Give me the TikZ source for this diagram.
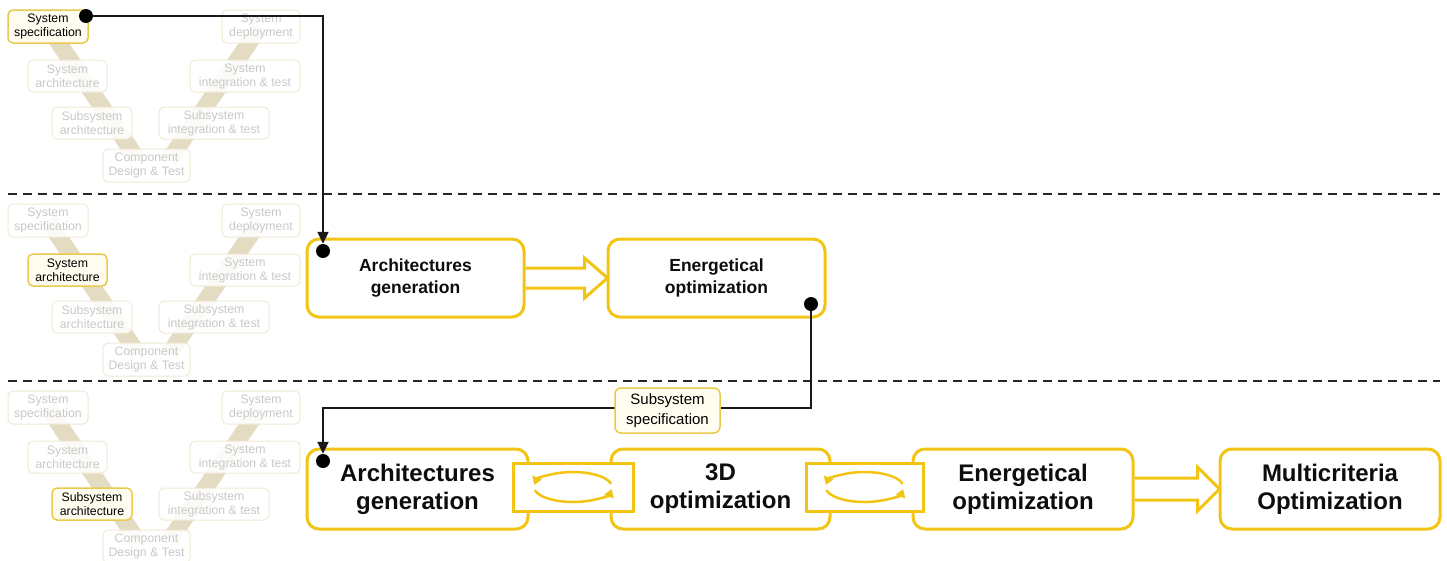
\documentclass[tikz,border=0pt]{standalone}
\usepackage{fontspec}
\setmainfont{Liberation Sans}
\usetikzlibrary{arrows.meta,calc}
\definecolor{gold}{HTML}{F2C414}
\definecolor{band}{HTML}{E3DBC2}
\definecolor{fadeline}{HTML}{EFE9D3}
\definecolor{fadetext}{HTML}{C9C9C9}
\definecolor{hlfill}{HTML}{FFFDF0}
\definecolor{hlline}{HTML}{E9C94E}
\tikzset{
 vbase/.style={rounded corners=5pt, inner sep=0pt, align=center, font=\fontsize{12.3}{14}\selectfont, line width=1pt},
 vfade/.style={vbase, draw=fadeline, fill=white, fill opacity=0.88, text opacity=1, text=fadetext},
 vhl/.style={vbase, draw=hlline, fill=hlfill, text=black, line width=1.5pt},
 mainbox/.style={draw=gold, line width=3pt, fill=white, rounded corners=12pt, align=center, inner sep=0pt, text=black!95},
 midtext/.style={font=\bfseries\fontsize{17.5}{22}\selectfont},
 bigtext/.style={font=\bfseries\fontsize{24}{28}\selectfont},
 cyclebox/.style={draw=gold, line width=3pt, fill=white, minimum height=48pt, inner sep=0pt},
 cyc/.style={draw=gold, line width=2.5pt, -{Triangle[length=8pt,width=10pt]}},
 barrow/.style={draw=gold, line width=3pt, line join=miter},
 conn/.style={draw=black!90, line width=2pt, -{Triangle[length=12pt,width=11pt]}},
 dot/.style={circle, fill=black, inner sep=0pt, minimum size=14pt},
 tag/.style={draw=hlline, fill=hlfill, rounded corners=6pt, line width=1.5pt, minimum width=105pt, minimum height=45pt, font=\fontsize{15}{20}\selectfont, align=center, inner sep=0pt},
 dashline/.style={draw=black!85, line width=2pt, dash pattern=on 9pt off 6pt}
}
\newcommand\Vdiag[5]{%
\begin{scope}[shift={(0,#2)}]
 \draw[band, line width=17pt] (48,27) -- (138,160);
 \draw[band, line width=17pt] (260,27) -- (169,160);
 \node[#3, minimum width=80pt, minimum height=33pt] (#1spec) at (48,26.5) {System\\specification};
 \node[vfade, minimum width=78pt, minimum height=33pt] (#1dep) at (261,26.5) {System\\deployment};
 \node[#4, minimum width=79pt, minimum height=32pt] (#1sarch) at (67.5,76) {System\\architecture};
 \node[vfade, minimum width=110pt, minimum height=32pt] (#1sint) at (245,76) {System\\integration \& test};
 \node[#5, minimum width=80pt, minimum height=32pt] (#1ssarch) at (92,123) {Subsystem\\architecture};
 \node[vfade, minimum width=110pt, minimum height=32pt] (#1ssint) at (214,123) {Subsystem\\integration \& test};
 \node[vfade, minimum width=87pt, minimum height=33pt] (#1comp) at (146.5,165.5) {Component\\Design \& Test};
\end{scope}}
\begin{document}
\begin{tikzpicture}[x=1pt,y=-1pt]
\clip (0,0) rectangle (1447,560);
\fill[white] (0,0) rectangle (1447,560);
\Vdiag{a}{0}{vhl}{vfade}{vfade}
\Vdiag{b}{194}{vfade}{vhl}{vfade}
\Vdiag{c}{381}{vfade}{vfade}{vhl}
\draw[dashline] (8,194) -- (1440,194);
\draw[dashline] (8,381) -- (1440,381);
% row 2
\node[mainbox, midtext, minimum width=217pt, minimum height=78pt] (ra) at (415.5,278) {Architectures\\generation};
\node[mainbox, midtext, minimum width=217pt, minimum height=78pt] (re) at (716.5,278) {Energetical\\optimization};
\draw[barrow] (ra.east) ++(0,-10) -- ++(59,0) -- ++(0,-10) -- ++(23,20) -- ++(-23,20) -- ++(0,-10) -- ++(-59,0);
% row 3
\node[mainbox, bigtext, minimum width=221pt, minimum height=80pt] (sa) at (417.5,489) {Architectures\\generation};
\node[mainbox, bigtext, minimum width=219pt, minimum height=80pt] (s3) at (720.5,489) {3D\\optimization};
\node[mainbox, bigtext, minimum width=220pt, minimum height=80pt] (se) at (1023,489) {Energetical\\optimization};
\node[mainbox, bigtext, minimum width=220pt, minimum height=80pt] (sm) at (1330,489) {Multicriteria\\Optimization};
\node[cyclebox, minimum width=120pt] (c1) at (573,487) {};
\node[cyclebox, minimum width=117pt] (c2) at (864.5,487) {};
\foreach \c in {c1,c2}{
 \draw[cyc] ([shift={(-12:39 and 15)}]\c.center) arc[start angle=-12, end angle=-172, x radius=39, y radius=15];
 \draw[cyc] ([shift={(168:39 and 15)}]\c.center) arc[start angle=168, end angle=8, x radius=39, y radius=15];
}
\draw[barrow] (se.east) ++(0,-11) -- ++(63,0) -- ++(0,-11) -- ++(22,22) -- ++(-22,22) -- ++(0,-11) -- ++(-63,0);
% connectors
\node[dot] (d0) at (86,16) {};
\node[dot] (d1) at (323,251) {};
\node[dot] (d2) at (811,304) {};
\node[dot] (d3) at (323,461) {};
\coordinate (bend) at (323,408);
\draw[conn] (d0) -| (d1);
\draw[conn] (d2) |- (bend) -- (d3);
\node[tag] (lbl) at (667.5,410.5) {Subsystem\\specification};
\end{tikzpicture}
\end{document}
